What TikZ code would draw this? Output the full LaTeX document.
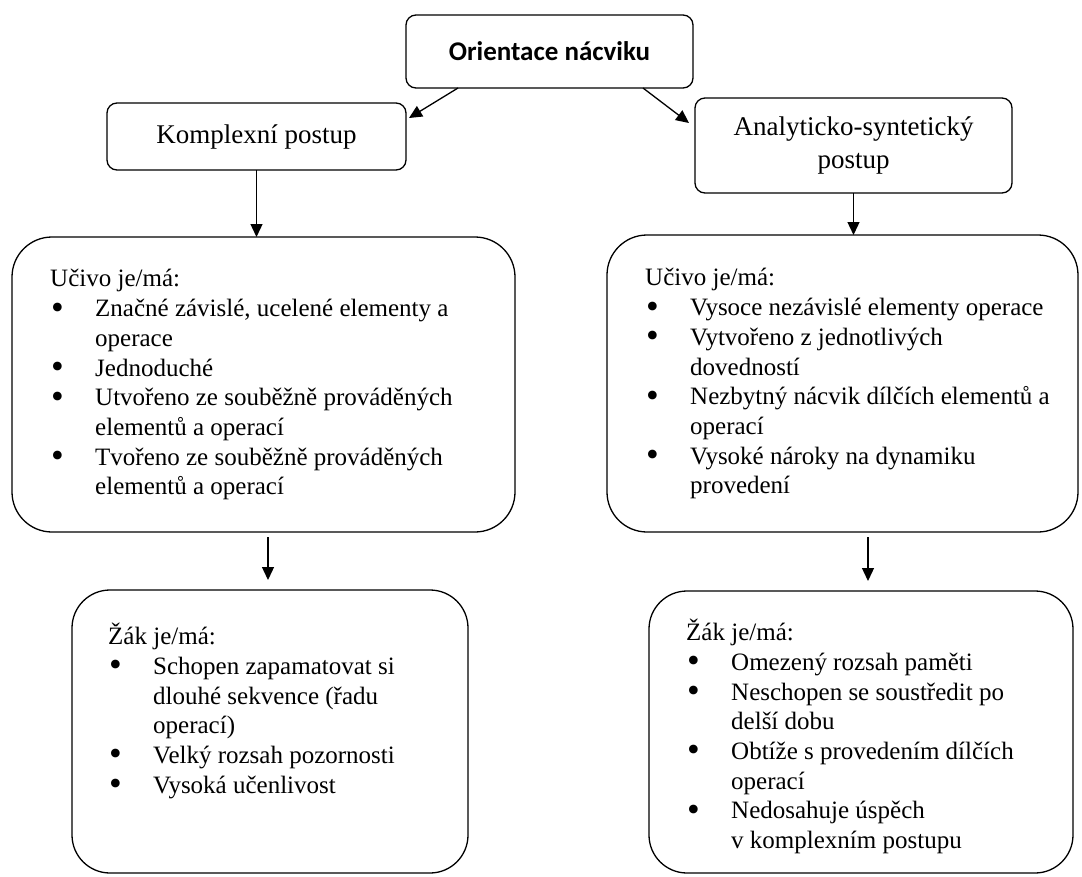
\documentclass[tikz,border=0pt]{standalone}
\usepackage{fontspec}
\setmainfont{Liberation Serif}
\newfontfamily\headfont{Carlito}
\usetikzlibrary{arrows.meta}

% font sizes: captions of the upper boxes and the bulleted lists
\newcommand\listfont{\fontsize{25}{29.7}\selectfont}
\newcommand\capfont{\fontsize{27}{32.5}\selectfont}
% list lines: heading, bullet item, continuation line
\newcommand\hd[1]{\strut #1}
\newcommand\bigbullet{\smash{\raisebox{-2.5pt}{\scalebox{1.45}{•}}}}
\newcommand\bu[1]{\strut\hspace*{1pt}\makebox[44pt][l]{\bigbullet}#1}
\newcommand\cn[1]{\strut\hspace*{45pt}#1}

\begin{document}
\begin{tikzpicture}[x=1pt,y=-1pt,
  rbox/.style={draw, line width=1.3pt, inner sep=0pt, outer sep=0pt},
  arr/.style={line width=1.3pt, -{Triangle[length=13pt,width=12pt]}},
  listtext/.style={anchor=north west, inner sep=0pt, align=left, font=\listfont}]
\useasboundingbox (0,0) rectangle (1082,876);

% upper level
\node[rbox, rounded corners=10pt, minimum width=287pt, minimum height=73pt,
      font=\headfont\bfseries\capfont] (top) at (549.5,51.5) {Orientace nácviku};
\node[rbox, rounded corners=10pt, minimum width=299pt, minimum height=67pt,
      font=\capfont] (kp) at (256.5,136.5) {Komplexní postup};
\node[rbox, rounded corners=10pt, minimum width=317pt, minimum height=95pt,
      font=\capfont, align=center] (as) at (853.5,145.5) {Analyticko-syntetický\\postup};

% content boxes
\node[rbox, rounded corners=40pt, minimum width=503pt, minimum height=295pt] (uL) at (263.5,384.5) {};
\node[rbox, rounded corners=40pt, minimum width=471pt, minimum height=297pt] (uR) at (842.5,383.5) {};
\node[rbox, rounded corners=38pt, minimum width=396pt, minimum height=283pt] (zL) at (270,731.5) {};
\node[rbox, rounded corners=38pt, minimum width=424pt, minimum height=282pt] (zR) at (861,732) {};

\node[listtext] (uLt) at ([xshift=38pt,yshift=-29pt]uL.north west) {%
\hd{Učivo je/má:}\\
\bu{Značné závislé, ucelené elementy a}\\
\cn{operace}\\
\bu{Jednoduché}\\
\bu{Utvořeno ze souběžně prováděných}\\
\cn{elementů a operací}\\
\bu{Tvořeno ze souběžně prováděných}\\
\cn{elementů a operací}};

\node[listtext] (uRt) at ([xshift=38pt,yshift=-30pt]uR.north west) {%
\hd{Učivo je/má:}\\
\bu{Vysoce nezávislé elementy operace}\\
\bu{Vytvořeno z jednotlivých}\\
\cn{dovedností}\\
\bu{Nezbytný nácvik dílčích elementů a}\\
\cn{operací}\\
\bu{Vysoké nároky na dynamiku}\\
\cn{provedení}};

\node[listtext] (zLt) at ([xshift=36pt,yshift=-33pt]zL.north west) {%
\hd{Žák je/má:}\\
\bu{Schopen zapamatovat si}\\
\cn{dlouhé sekvence (řadu}\\
\cn{operací)}\\
\bu{Velký rozsah pozornosti}\\
\bu{Vysoká učenlivost}};

\node[listtext] (zRt) at ([xshift=37pt,yshift=-28pt]zR.north west) {%
\hd{Žák je/má:}\\
\bu{Omezený rozsah paměti}\\
\bu{Neschopen se soustředit po}\\
\cn{delší dobu}\\
\bu{Obtíže s provedením dílčích}\\
\cn{operací}\\
\bu{Nedosahuje úspěch}\\
\cn{v komplexním postupu}};

% connectors
\draw[arr] ([xshift=52pt]top.south west) -- ([xshift=3pt,yshift=-15pt]kp.north east);
\draw[arr] ([xshift=-50pt]top.south east) -- ([xshift=-6pt,yshift=-25pt]as.north west);
\draw[arr] (kp.south) -- (kp.south |- uL.north);
\draw[arr] (as.south) -- (as.south |- uR.north);
\coordinate (lA) at ([xshift=-2pt]zL.north);
\coordinate (rA) at ([xshift=7pt]zR.north);
\draw[arr, shorten <=5pt, shorten >=10pt] (lA |- uL.south) -- (lA);
\draw[arr, shorten <=5pt, shorten >=10pt] (rA |- uR.south) -- (rA);
\end{tikzpicture}
\end{document}
